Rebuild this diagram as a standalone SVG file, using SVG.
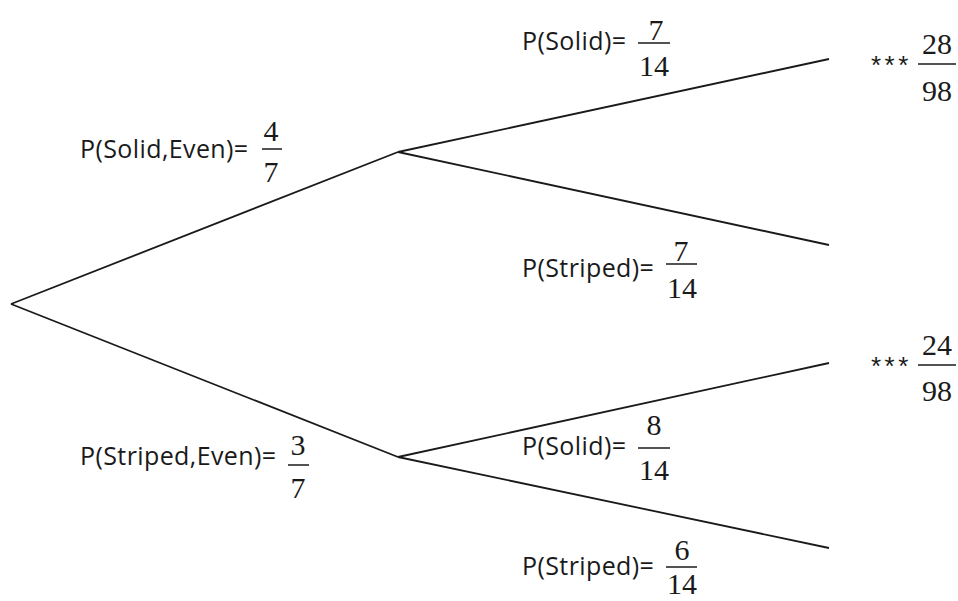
<svg xmlns="http://www.w3.org/2000/svg" width="958" height="601" viewBox="0 0 958 601">
<style>
.lbl{font-family:"Open Sans","Liberation Sans",sans-serif;font-size:25px;letter-spacing:0.4px;fill:#1a1a1a}
.num{font-family:"Liberation Serif","Times New Roman",serif;font-size:30px;fill:#1a1a1a;text-anchor:middle}
.star{font-family:"Liberation Sans",sans-serif;font-size:26px;letter-spacing:3.5px;fill:#1a1a1a}
.bar{stroke:#1a1a1a;stroke-width:1.5}
.edge{stroke:#1a1a1a;stroke-width:1.8;fill:none}
</style>
<rect width="958" height="601" fill="#fff"/>
<g id="connectors">
<line class="edge" x1="11" y1="304" x2="398" y2="152"/>
<line class="edge" x1="11" y1="304" x2="398" y2="457"/>
<line class="edge" x1="398" y1="152" x2="829" y2="59"/>
<line class="edge" x1="398" y1="152" x2="829" y2="245"/>
<line class="edge" x1="398" y1="457" x2="829" y2="363"/>
<line class="edge" x1="398" y1="457" x2="829" y2="548"/>
</g>
<g id="solid-even">
<text class="lbl" x="80" y="158">P(Solid,Even)=</text>
<text class="num" x="271" y="141">4</text>
<line class="bar" x1="262" y1="149" x2="282" y2="149"/>
<text class="num" x="271" y="182">7</text>
</g>
<g id="striped-even">
<text class="lbl" x="80" y="465">P(Striped,Even)=</text>
<text class="num" x="298" y="455">3</text>
<line class="bar" x1="288" y1="465" x2="309" y2="465"/>
<text class="num" x="298" y="498">7</text>
</g>
<g id="solid-1">
<text class="lbl" x="522" y="50">P(Solid)=</text>
<text class="num" x="656" y="40">7</text>
<line class="bar" x1="638" y1="43" x2="670" y2="43"/>
<text class="num" x="654" y="76">14</text>
</g>
<g id="striped-1">
<text class="lbl" x="522" y="277">P(Striped)=</text>
<text class="num" x="681" y="261">7</text>
<line class="bar" x1="666" y1="264" x2="697" y2="264"/>
<text class="num" x="682" y="298">14</text>
</g>
<g id="solid-2">
<text class="lbl" x="522" y="455">P(Solid)=</text>
<text class="num" x="654" y="435">8</text>
<line class="bar" x1="638" y1="448" x2="670" y2="448"/>
<text class="num" x="654" y="480">14</text>
</g>
<g id="striped-2">
<text class="lbl" x="522" y="575">P(Striped)=</text>
<text class="num" x="682" y="560">6</text>
<line class="bar" x1="666" y1="567" x2="697" y2="567"/>
<text class="num" x="682" y="594">14</text>
</g>
<g id="result-1">
<text class="star" x="871" y="74">***</text>
<text class="num" x="937" y="54">28</text>
<line class="bar" x1="918" y1="64" x2="956" y2="64"/>
<text class="num" x="937" y="101">98</text>
</g>
<g id="result-2">
<text class="star" x="871" y="375">***</text>
<text class="num" x="937" y="355">24</text>
<line class="bar" x1="918" y1="365" x2="956" y2="365"/>
<text class="num" x="937" y="401">98</text>
</g>
</svg>
